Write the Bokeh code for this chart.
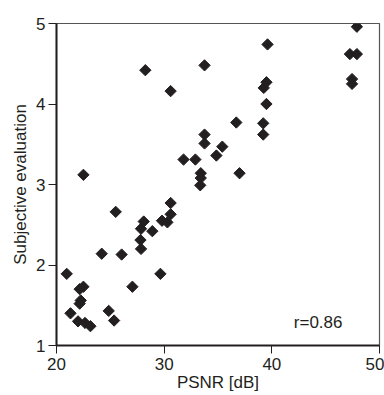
import numpy as np
from bokeh.plotting import figure
from bokeh.models import Range1d, FixedTicker, Label
from bokeh.embed import file_html
from bokeh.resources import INLINE

psnr = [20.95, 21.3, 22.15, 22.5, 22.25, 22.15, 22.0, 22.65, 23.15, 22.5,
        24.2, 24.85, 25.35, 25.5, 26.05, 27.05, 27.85, 27.8, 27.85, 28.1,
        28.9, 28.25, 29.65, 29.8, 30.3, 30.6, 30.6, 30.6, 31.8, 32.9,
        33.4, 33.4, 33.35, 33.75, 33.75, 33.75, 34.85, 35.4, 36.7, 37.0,
        39.2, 39.2, 39.5, 39.25, 39.5, 39.6, 47.25, 47.9, 47.45, 47.45, 47.9]
subjective = [1.89, 1.40, 1.70, 1.73, 1.56, 1.52, 1.30, 1.28, 1.24, 3.12,
              2.14, 1.43, 1.31, 2.66, 2.13, 1.73, 2.20, 2.31, 2.45, 2.54,
              2.42, 4.42, 1.89, 2.55, 2.53, 2.63, 2.77, 4.16, 3.31, 3.31,
              3.14, 3.08, 2.99, 3.62, 3.51, 4.48, 3.36, 3.47, 3.77, 3.14,
              3.76, 3.62, 4.00, 4.20, 4.27, 4.74, 4.62, 4.62, 4.31, 4.25, 4.96]
x_ticks = [20, 30, 40, 50]
y_ticks = [1, 2, 3, 4, 5]
x_title = "PSNR [dB]"
y_title = "Subjective evaluation"
r_text = "r=0.86"

INK = "#231f20"
FONT = "Liberation Sans"
FS = "17px"

p = figure(width=384, height=395, output_backend="svg", toolbar_location=None,
           x_range=Range1d(20, 50), y_range=Range1d(1, 5),
           min_border_left=56, min_border_right=5,
           min_border_top=23, min_border_bottom=50)

p.xgrid.visible = False
p.ygrid.visible = False
p.outline_line_color = "#555555"
p.outline_line_width = 1.2
p.background_fill_color = "white"
p.border_fill_color = "white"

for ax in (p.xaxis[0], p.yaxis[0]):
    ax.axis_line_color = INK
    ax.axis_line_width = 2
    ax.major_tick_line_color = INK
    ax.major_tick_line_width = 1
    ax.major_tick_in = 0
    ax.major_tick_out = 8
    ax.minor_tick_line_color = None
    ax.major_label_text_font = FONT
    ax.major_label_text_font_size = FS
    ax.major_label_text_color = INK
    ax.axis_label_text_font = FONT
    ax.axis_label_text_font_size = FS
    ax.axis_label_text_font_style = "normal"
    ax.axis_label_text_color = INK

p.xaxis.ticker = FixedTicker(ticks=x_ticks)
p.yaxis.ticker = FixedTicker(ticks=y_ticks)
p.xaxis.axis_label = x_title
p.yaxis.axis_label = y_title
p.xaxis.major_label_standoff = 4
p.yaxis.major_label_standoff = 3
p.xaxis.axis_label_standoff = 0
p.yaxis.axis_label_standoff = 3

p.scatter(psnr, subjective, marker="square", angle=np.pi / 4, size=8,
          fill_color=INK, line_color=INK, line_width=1)

p.add_layout(Label(x=44.3, y=1.28, text=r_text, text_font=FONT, text_font_size=FS,
                   text_color=INK, text_align="center", text_baseline="middle"))

open("out.html", "w").write(file_html(p, INLINE))
